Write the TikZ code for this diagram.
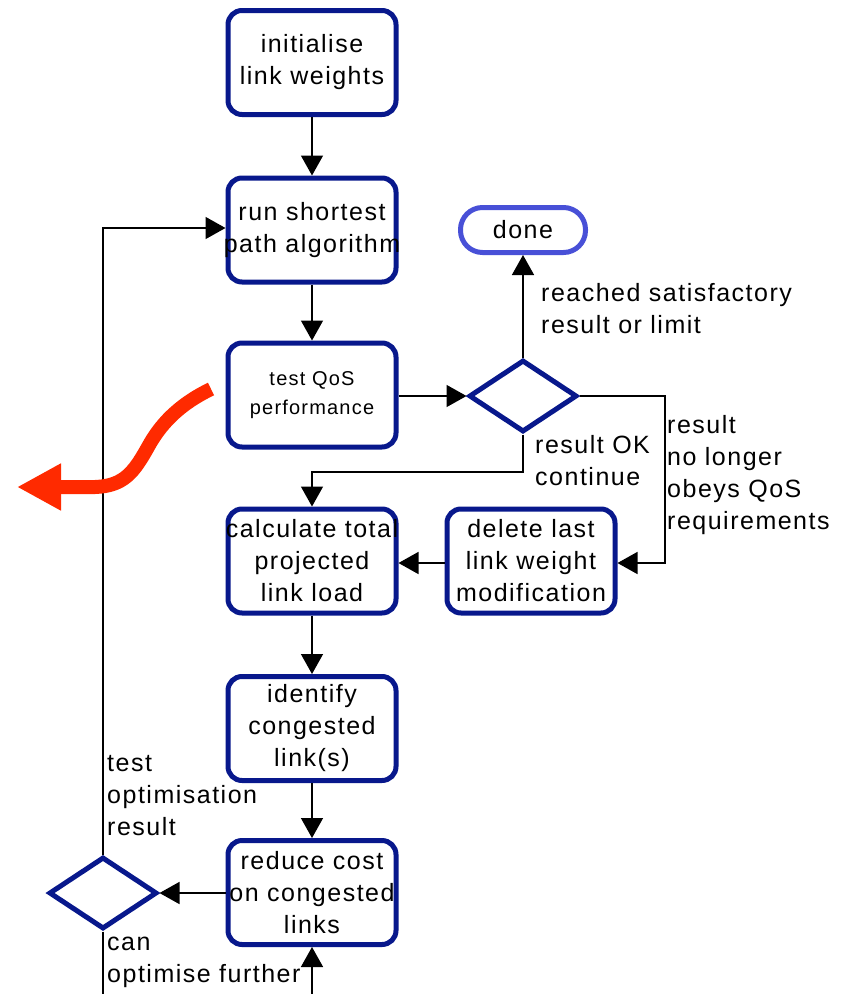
\documentclass[tikz,border=0pt]{standalone}
\usepackage{fontspec}
\setmainfont{Liberation Sans}[LetterSpace=6]
\usetikzlibrary{arrows.meta,shapes.geometric}
\definecolor{boxblue}{RGB}{8,24,140}
\definecolor{doneblue}{RGB}{72,80,215}
\definecolor{redarrow}{RGB}{255,42,0}
\begin{document}
\begin{tikzpicture}[x=1pt,y=-1pt,
 box/.style={draw=boxblue,line width=5pt,rounded corners=14pt,minimum width=168pt,minimum height=104pt,inner sep=0pt},
 boxtext/.style={inner sep=0pt,align=center,font=\fontsize{25}{32}\selectfont},
 donebox/.style={draw=doneblue,line width=5pt,rounded corners=22pt,minimum width=125pt,minimum height=45pt,inner sep=0pt,font=\fontsize{25}{32}\selectfont},
 dec/.style={draw=boxblue,line width=5pt,shape=diamond,minimum width=108pt,minimum height=72pt,inner sep=0pt},
 conn/.style={line width=1.5pt},
 arr/.style={conn,-{Triangle[length=20pt,width=22pt]}},
 lbl/.style={anchor=north west,inner sep=0pt,align=left,font=\fontsize{25}{32}\selectfont}]
\useasboundingbox (0,0) rectangle (843,994);
% boxes
\node[box] (init) at (312,62.5) {};
\node[boxtext] (initt) at (init) {initialise\\link weights};
\node[box] (run) at (312,230) {};
\node[boxtext] (runt) at (run) {run shortest\\path algorithm};
\node[box] (test) at (312,395) {};
\node[boxtext,font=\fontsize{20}{29}\selectfont] (testt) at (test) {test QoS\\performance};
\node[box] (calc) at (312,561) {};
\node[boxtext] (calct) at (calc) {calculate total\\projected\\link load};
\node[box] (ident) at (312,728.5) {};
\node[boxtext] (identt) at (ident) {identify\\congested\\link(s)};
\node[box] (reduce) at (312,892.5) {};
\node[boxtext] (reducet) at (reduce) {reduce cost\\on congested\\links};
\node[box] (del) at (531,561) {};
\node[boxtext] (delt) at (del) {delete last\\link weight\\modification};
\node[donebox] (done) at (523,230) {done};
\node[dec] (d1) at (523,396) {};
\node[dec] (d2) at (103,893) {};
\coordinate (bl) at (103,994);
\coordinate (br) at (312,994);
% connectors
\draw[arr] (init) -- (run);
\draw[arr] (run) -- (test);
\draw[arr] (test.east |- d1.west) -- (d1.west);
\draw[arr] (d1.north) -- (done.south);
\draw[arr] (d1.south) |- (calc.north |- 0,472) -- (calc.north);
\draw[arr] (d1.east) -| (665,563) -- (del.east |- 0,563);
\draw[arr] (del.west |- 0,563) -- (calc.east |- 0,563);
\draw[arr] (calc) -- (ident);
\draw[arr] (ident) -- (reduce);
\draw[arr] (reduce.west |- d2.east) -- (d2.east);
\draw[arr] (d2.north) |- (run.west |- 0,228);
\draw[conn] (d2.south) -- (bl);
\draw[arr] (br) -- (reduce.south);
% labels
\node[lbl] (l1) at (541,283) {reached satisfactory\\result or limit};
\node[lbl] (l2) at (535,435) {result OK\\continue};
\node[lbl] (l3) at (667,415) {result\\no longer\\obeys QoS\\requirements};
\node[lbl] (l4) at (107,755) {test\\optimisation\\result};
\node[lbl] (l5) at (107,937) {can\\optimise further};
% red arrow
\draw[redarrow,line width=14pt,-{Triangle[length=44pt,width=44pt]}] (211,389) .. controls (178,405) and (160,425) .. (148,447) .. controls (134,472) and (124,486) .. (95,487) -- (17,487);
\end{tikzpicture}
\end{document}
